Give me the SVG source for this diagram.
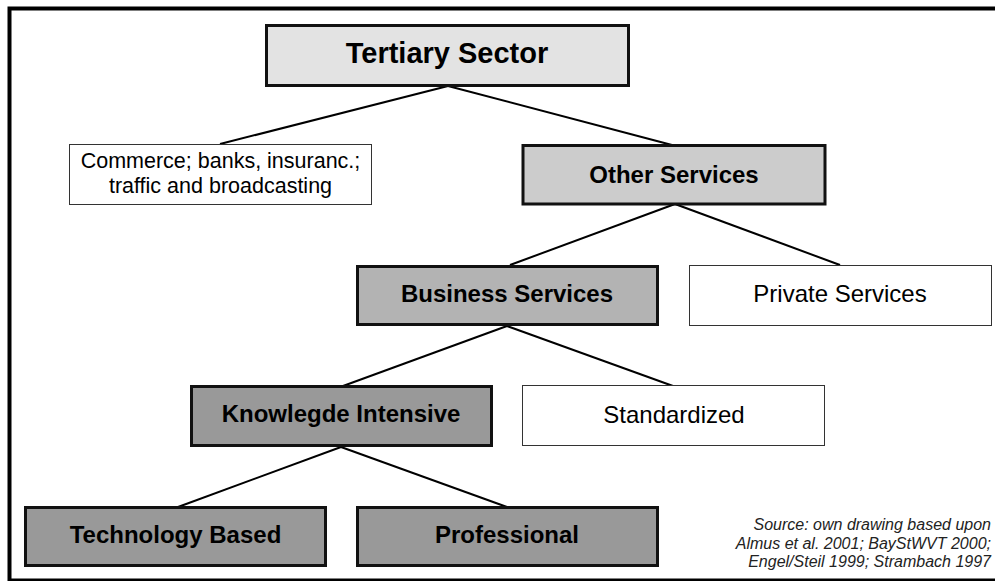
<svg xmlns="http://www.w3.org/2000/svg" width="995" height="581" viewBox="0 0 995 581">
<style>
.frame{fill:none;stroke:#000;stroke-width:4}
.bold{stroke:#111;stroke-width:3}
.thin{fill:#fff;stroke:#333;stroke-width:1}
.conn line{stroke:#000;stroke-width:2}
text{font-family:"Liberation Sans",Arial,sans-serif;fill:#000;text-anchor:middle}
.b{font-weight:bold;font-size:24px}
.n{font-size:24px}
.src{font-size:16px;font-style:italic;text-anchor:end;fill:#222}
</style>
<rect x="0" y="0" width="995" height="581" fill="#fff"/>
<rect class="frame" x="9.5" y="8.5" width="990" height="572"/>
<g class="conn">
<line x1="448" y1="86" x2="220" y2="144"/>
<line x1="448" y1="86" x2="672" y2="145"/>
<line x1="675" y1="204" x2="510" y2="265"/>
<line x1="675" y1="204" x2="840" y2="265"/>
<line x1="507" y1="326" x2="343" y2="386"/>
<line x1="507" y1="326" x2="673" y2="386"/>
<line x1="341" y1="447" x2="178" y2="507"/>
<line x1="341" y1="447" x2="507" y2="507"/>
</g>
<g id="tertiary">
<rect class="bold" x="266.5" y="25.5" width="362" height="60" fill="#e3e3e3"/>
<text x="447" y="63" style="font-weight:bold;font-size:29px">Tertiary Sector</text>
</g>
<g id="commerce">
<rect class="thin" x="69.5" y="144.5" width="302" height="60"/>
<text x="220.5" y="168" style="font-size:21.5px">Commerce; banks, insuranc.;</text>
<text x="220.5" y="193" style="font-size:21.5px">traffic and broadcasting</text>
</g>
<g id="other">
<rect class="bold" x="523" y="145.5" width="302" height="58.5" fill="#cccccc"/>
<text class="b" x="674" y="183">Other Services</text>
</g>
<g id="business">
<rect class="bold" x="357.5" y="266.5" width="300" height="58" fill="#b3b3b3"/>
<text class="b" x="507" y="302">Business Services</text>
</g>
<g id="private">
<rect class="thin" x="689.5" y="265.5" width="302" height="60"/>
<text class="n" x="840" y="302">Private Services</text>
</g>
<g id="knowledge">
<rect class="bold" x="191.5" y="386.5" width="300" height="59" fill="#999999"/>
<text class="b" x="341" y="422">Knowlegde Intensive</text>
</g>
<g id="standardized">
<rect class="thin" x="522.5" y="385.5" width="302" height="60"/>
<text class="n" x="674" y="423">Standardized</text>
</g>
<g id="technology">
<rect class="bold" x="25.5" y="507.5" width="300" height="58" fill="#999999"/>
<text class="b" x="175.5" y="543">Technology Based</text>
</g>
<g id="professional">
<rect class="bold" x="357.5" y="507.5" width="300" height="58" fill="#999999"/>
<text class="b" x="507" y="543">Professional</text>
</g>
<g id="source">
<text class="src" x="991" y="530">Source: own drawing based upon</text>
<text class="src" x="991" y="548.5">Almus et al. 2001; BayStWVT 2000;</text>
<text class="src" x="991" y="567">Engel/Steil 1999; Strambach 1997</text>
</g>
</svg>
